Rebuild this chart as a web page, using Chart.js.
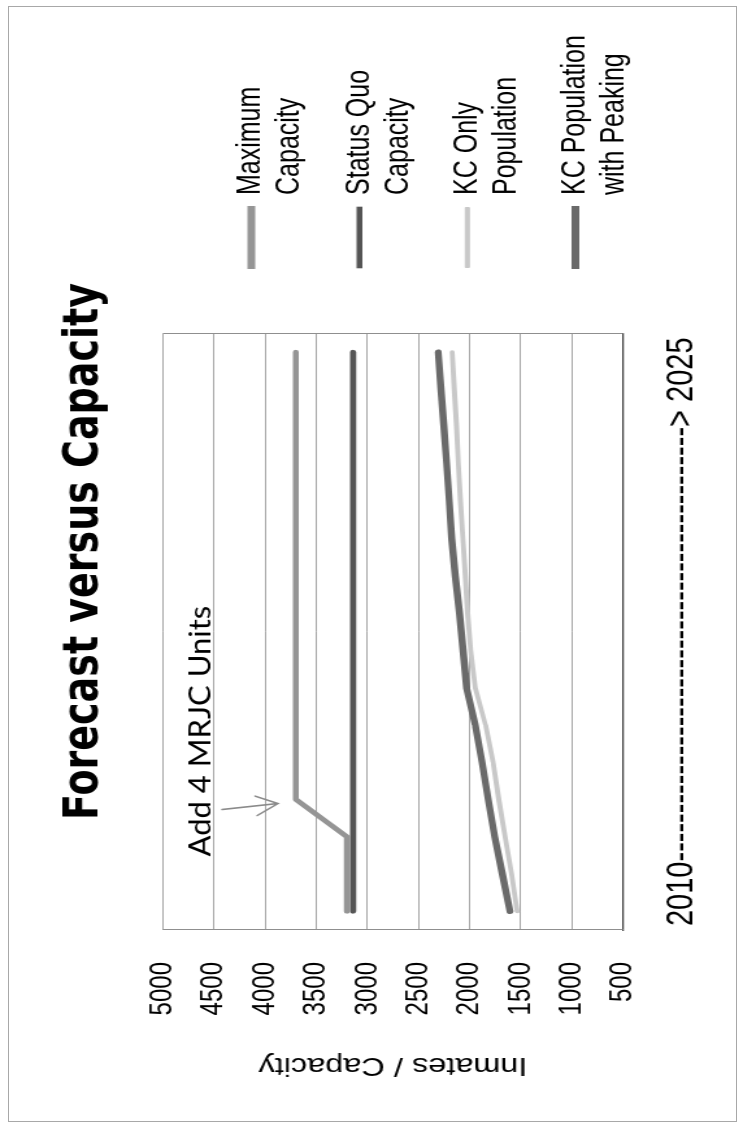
<!DOCTYPE html>
<html>
<head>
<meta charset="utf-8">
<script src="https://cdn.jsdelivr.net/npm/chart.js@4.4.1/dist/chart.umd.min.js"></script>
<style>
  html, body { margin: 0; padding: 0; background: #fff; width: 743px; height: 1129px; overflow: hidden; }
  /* the slide is laid out landscape and turned a quarter turn counter-clockwise */
  #slide { position: absolute; left: 0; top: 0; width: 1129px; height: 743px;
           transform-origin: 0 0; transform: translate(0, 1129px) rotate(-90deg); background: #fff; }
  /* the chart object sits stretched vertically on the slide */
  #stretch { position: absolute; left: 0; top: 0; width: 1129px; height: 572px;
             transform-origin: 0 0; transform: scaleY(1.2990); }
  #frame { position: absolute; left: 8px; top: 6px; width: 729px; height: 1116px;
           box-sizing: border-box; border: 1px solid #a8a8a8; pointer-events: none; }
</style>
</head>
<body>
<div id="slide"><div id="stretch"><canvas id="chart" width="1129" height="572"></canvas></div></div>
<div id="frame"></div>
<script>
// ---- data ----
const years = ['2010','2011','2012','2013','2014','2015','2016','2017',
               '2018','2019','2020','2021','2022','2023','2024','2025'];
const maximumCapacity   = [3200, 3200, 3200, 3700, 3700, 3700, 3700, 3700,
                           3700, 3700, 3700, 3700, 3700, 3700, 3700, 3700];
const statusQuoCapacity = [3140, 3140, 3140, 3140, 3140, 3140, 3140, 3140,
                           3140, 3140, 3140, 3140, 3140, 3140, 3140, 3140];
const kcOnlyPopulation  = [1534, 1590, 1652, 1715, 1770, 1845, 1945, 1990,
                           2020, 2042, 2066, 2090, 2110, 2128, 2150, 2172];
const kcPopulationWithPeaking = [1605, 1680, 1755, 1818, 1878, 1945, 2030, 2065,
                                 2100, 2140, 2175, 2200, 2225, 2252, 2280, 2308];
const yTickValues = [500, 1000, 1500, 2000, 2500, 3000, 3500, 4000, 4500, 5000];

const seriesNames = ['Maximum Capacity', 'Status Quo Capacity', 'KC Only Population', 'KC Population with Peaking'];
const legendLines = [['Maximum', 'Capacity'], ['Status Quo', 'Capacity'],
                     ['KC Only', 'Population'], ['KC Population', 'with Peaking']];
const chartTitle = 'Forecast versus Capacity';
const yAxisTitle = 'Inmates / Capacity';
const xAxisTitle = '2010---------------------------------------------> 2025';
const noteText = 'Add 4 MRJC Units';
const noteIndex = 3;   // year the four units come on line

// ---- look ----
const colors = ['#959595', '#555555', '#c8c8c8', '#6a6a6a'];
const lineWidths = [4.6, 4.6, 3.8, 5.4];
const swatchStroke = [3, 1.6, 1, 3];
const sansFont = "'Liberation Sans', Arial, sans-serif";

// ---- layout ----
const stretchY = 1.2990;          // vertical stretch applied to the canvas
const canvasWidth = 1129;
const plotLeft = 199;
const plotRight = 791;
const titleCenter = 577.5;
const yTitleCenter = 64;
const legendPad = 23.1, legendBox = 60, legendFontSize = 25;
const rightAxisWidth = 857 - legendPad - plotRight;

const measure = document.createElement('canvas').getContext('2d');
measure.font = legendFontSize + 'px ' + sansFont;
const longestLine = legendLines.map(l => l.reduce((a, b) => a.length > b.length ? a : b))
  .map(t => measure.measureText(t).width);
const legendWidth = legendPad + legendBox + legendFontSize / 2 + Math.max(...longestLine) + 10;
const rightPad = Math.max(0, canvasWidth - plotRight - rightAxisWidth - legendWidth);
const leftPad = Math.max(0, 2 * titleCenter - canvasWidth + rightPad);
const yTitleFont = 25, yTitleLine = 1.2;

const datasets = [maximumCapacity, statusQuoCapacity, kcOnlyPopulation, kcPopulationWithPeaking]
  .map((values, i) => ({
    label: seriesNames[i],
    data: values,
    borderColor: colors[i],
    backgroundColor: colors[i],
    borderWidth: lineWidths[i],
    borderCapStyle: 'round',
    borderJoinStyle: 'round',
    pointRadius: 0,
    tension: 0,
    fill: false
  }));

// side edges of the plot frame
const plotFrame = {
  id: 'plotFrame',
  beforeDatasetsDraw(chart) {
    const { ctx, chartArea: a } = chart;
    ctx.save();
    ctx.strokeStyle = '#8f8f8f';
    ctx.lineWidth = 1;
    ctx.beginPath();
    ctx.moveTo(Math.round(a.left) + 0.5, a.top);
    ctx.lineTo(Math.round(a.left) + 0.5, a.bottom);
    ctx.moveTo(Math.round(a.right) - 0.5, a.top);
    ctx.lineTo(Math.round(a.right) - 0.5, a.bottom);
    ctx.stroke();
    ctx.restore();
  }
};

// note and arrow pointing at the step in maximum capacity (drawn unstretched)
const unitsNote = {
  id: 'unitsNote',
  afterDatasetsDraw(chart) {
    const { ctx, scales: { x, y } } = chart;
    const px = x.getPixelForValue(noteIndex);
    const py = y.getPixelForValue(maximumCapacity[noteIndex]) * stretchY;
    ctx.save();
    ctx.scale(1, 1 / stretchY);
    ctx.font = '31px Lato';
    ctx.fillStyle = '#000';
    ctx.textAlign = 'left';
    ctx.textBaseline = 'alphabetic';
    ctx.fillText(noteText, px - 57, py - 86);

    const tail = { x: px - 10, y: py - 74 };
    const tip = { x: px - 4, y: py - 18 };
    const ang = Math.atan2(tip.y - tail.y, tip.x - tail.x);
    const head = 24, spread = 0.42;
    ctx.strokeStyle = '#8a8a8a';
    ctx.lineWidth = 1.6;
    ctx.lineCap = 'round';
    ctx.beginPath();
    ctx.moveTo(tail.x, tail.y);
    ctx.lineTo(tip.x, tip.y);
    ctx.moveTo(tip.x - head * Math.cos(ang - spread), tip.y - head * Math.sin(ang - spread));
    ctx.lineTo(tip.x, tip.y);
    ctx.lineTo(tip.x - head * Math.cos(ang + spread), tip.y - head * Math.sin(ang + spread));
    ctx.stroke();
    ctx.restore();
  }
};

new Chart(document.getElementById('chart'), {
  type: 'line',
  data: { labels: years, datasets },
  plugins: [plotFrame, unitsNote],
  options: {
    responsive: false,
    animation: false,
    devicePixelRatio: 1,
    layout: { padding: { top: 0, left: leftPad, bottom: 0, right: rightPad } },
    plugins: {
      tooltip: { enabled: false },
      title: {
        display: true,
        text: chartTitle,
        color: '#000',
        font: { family: "'DejaVu Sans'", weight: 'bold', size: 38, lineHeight: 1.2 },
        padding: { top: 42.7, bottom: 37.2 }
      },
      legend: {
        position: 'right',
        align: 'start',
        title: { display: true, text: '', padding: { top: 148, bottom: 0 }, font: { size: 10, lineHeight: 1 } },
        labels: {
          boxWidth: legendBox,
          boxHeight: 3,
          padding: legendPad,
          color: '#000',
          font: { family: sansFont, size: legendFontSize, lineHeight: 1.2 },
          generateLabels: (chart) => chart.data.datasets.map((ds, i) => ({
            text: legendLines[i],
            fillStyle: ds.borderColor,
            strokeStyle: ds.borderColor,
            lineWidth: swatchStroke[i],
            lineDash: [],
            lineJoin: 'miter',
            hidden: false,
            datasetIndex: i,
            fontColor: '#000'
          }))
        }
      }
    },
    scales: {
      x: {
        type: 'category',
        offset: true,
        grid: { display: false, drawTicks: false },
        border: { display: true, color: '#404040', width: 1.2 },
        ticks: { display: false },
        title: {
          display: true,
          text: xAxisTitle,
          color: '#000',
          font: { family: sansFont, size: 29, lineHeight: 1.2 },
          padding: { top: 28.4, bottom: 29.2 }
        }
      },
      y: {
        type: 'linear',
        position: 'left',
        min: 500,
        max: 5000,
        afterBuildTicks: (scale) => { scale.ticks = yTickValues.map(v => ({ value: v })); },
        afterFit: (scale) => { scale.width = plotLeft - leftPad; },
        grid: { color: '#8f8f8f', lineWidth: 0.8, drawTicks: false },
        border: { display: false },
        ticks: {
          color: '#000',
          padding: 32,
          font: { family: sansFont, size: 24 },
          callback: (v) => String(v)
        },
        title: {
          display: true,
          text: yAxisTitle,
          color: '#000',
          font: { family: sansFont, size: yTitleFont, lineHeight: yTitleLine },
          padding: { top: yTitleCenter - leftPad - yTitleFont * yTitleLine / 2, bottom: 0 }
        }
      },
      yRight: {
        type: 'linear',
        position: 'right',
        display: false,
        afterFit: (scale) => { scale.width = rightAxisWidth; }
      }
    }
  }
});
</script>
</body>
</html>
